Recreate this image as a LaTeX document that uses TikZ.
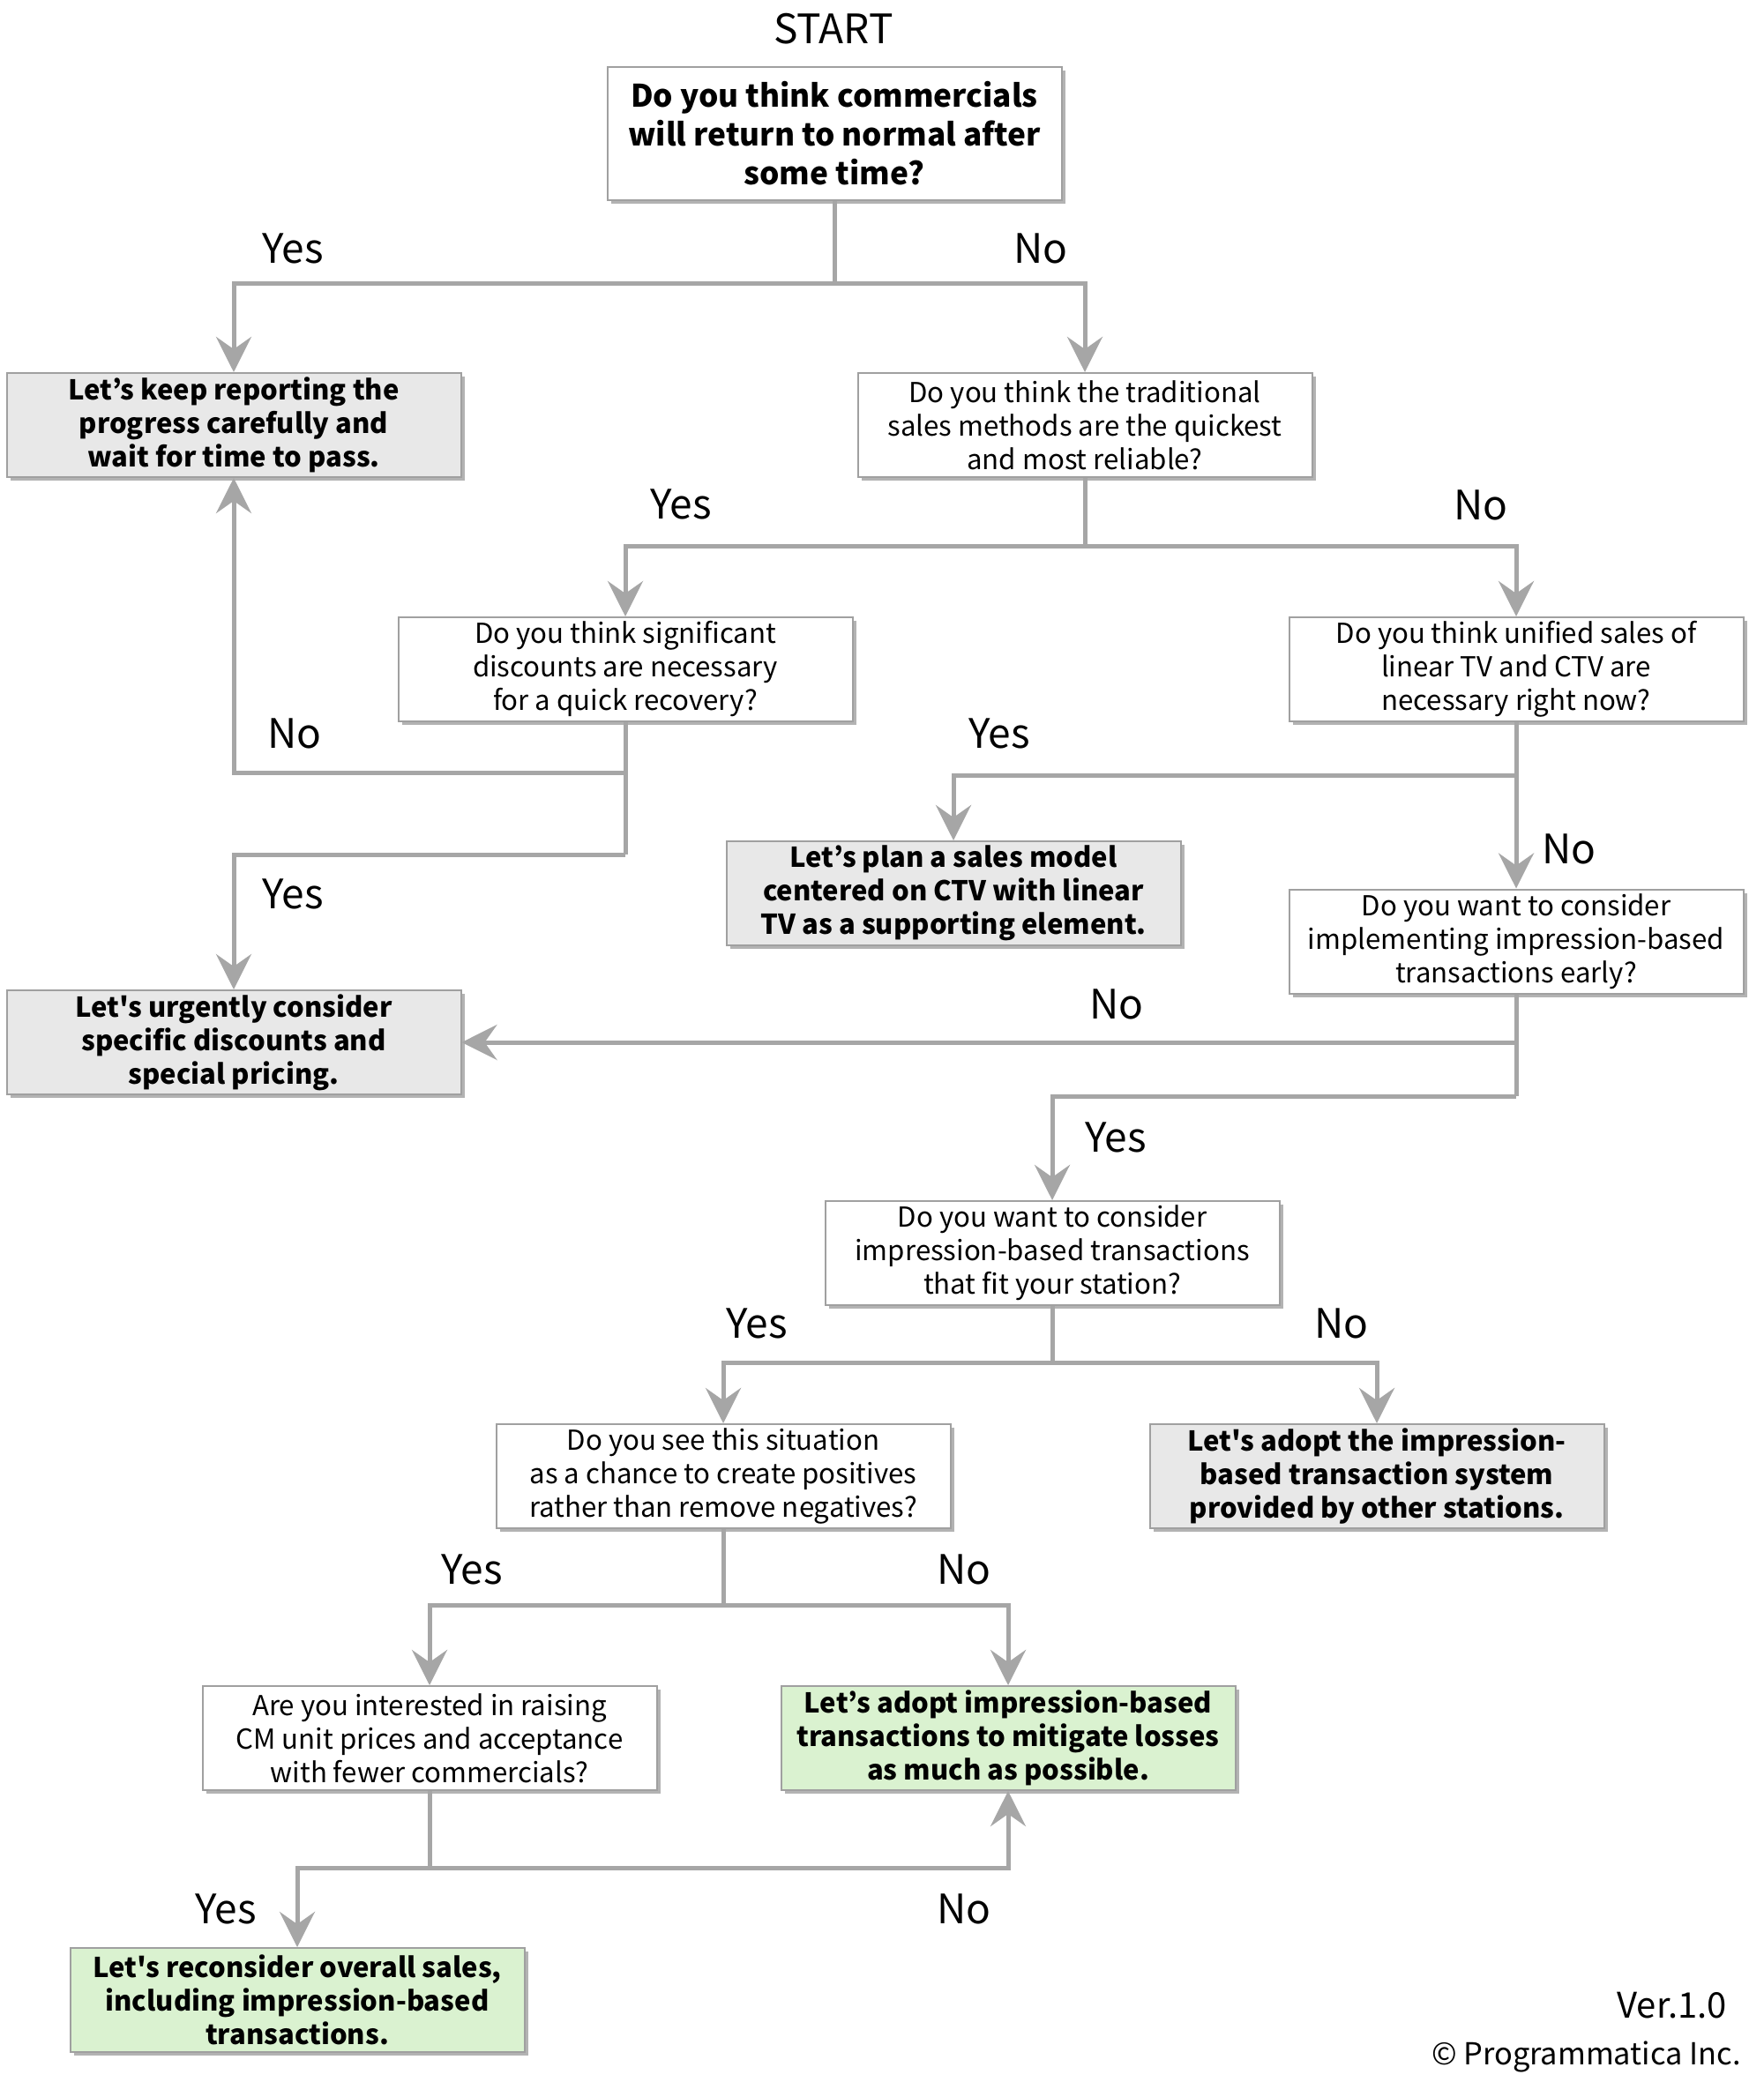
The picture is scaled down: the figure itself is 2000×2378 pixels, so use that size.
\documentclass[tikz,border=0pt]{standalone}
\usepackage{fontspec}
\setmainfont{Noto Sans CJK JP}[Ligatures=TeXOff]
\usetikzlibrary{arrows.meta,shadows}
\definecolor{lc}{HTML}{A6A6A6}
\definecolor{bc}{HTML}{A0A0A0}
\definecolor{graybox}{HTML}{E8E8E8}
\definecolor{greenbox}{HTML}{DAF2D0}
\begin{document}
\begin{tikzpicture}[x=0.5pt,y=-0.5pt,
  box/.style={draw=bc, line width=1pt, fill=white, minimum width=257.5pt, minimum height=59pt,
    align=center, inner sep=0pt, font=\fontsize{15.6}{19}\selectfont,
    drop shadow={shadow xshift=2pt, shadow yshift=-2pt, fill=black!50, opacity=0.6}},
  act/.style={box, fill=graybox, font=\bfseries\fontsize{15.5}{19}\selectfont},
  grn/.style={act, fill=greenbox},
  conn/.style={draw=lc, line width=2.5pt},
  arr/.style={conn, -{Stealth[length=20pt,width=20pt,inset=7pt]}},
  lab/.style={font=\fontsize{23}{26}\selectfont, inner sep=0pt}]
\useasboundingbox (0,0) rectangle (2000,2378);

% nodes
\node[lab] (start) at (945,33) {START};
\node[box, minimum height=75.5pt, font=\bfseries\fontsize{17.6}{22}\selectfont] (q1) at (946,151.5)
  {Do you think commercials\\will return to normal after\\some time?};
\node[act] (l1) at (265,482) {Let’s keep reporting the\\progress carefully and\\wait for time to pass.};
\node[box] (q2) at (1230,482) {Do you think the traditional\\sales methods are the quickest\\and most reliable?};
\node[box] (q3) at (709,759) {Do you think significant\\discounts are necessary\\for a quick recovery?};
\node[box] (q4) at (1719,759) {Do you think unified sales of\\linear TV and CTV are\\necessary right now?};
\node[act] (l3) at (1081,1013) {Let’s plan a sales model\\centered on CTV with linear\\TV as a supporting element.};
\node[box] (q5) at (1719,1067.5) {Do you want to consider\\implementing impression-based\\transactions early?};
\node[act] (l2) at (265,1182) {Let's urgently consider\\specific discounts and\\special pricing.};
\node[box] (q6) at (1193,1421) {Do you want to consider\\impression-based transactions\\that fit your station?};
\node[box] (q7) at (820,1674) {Do you see this situation\\as a chance to create positives\\rather than remove negatives?};
\node[act] (l4) at (1561,1674) {Let's adopt the impression-\\based transaction system\\provided by other stations.};
\node[box] (q8) at (487,1971) {Are you interested in raising\\CM unit prices and acceptance\\with fewer commercials?};
\node[grn] (g1) at (1143,1971) {Let’s adopt impression-based\\transactions to mitigate losses\\as much as possible.};
\node[grn] (g2) at (337,2268) {Let's reconsider overall sales,\\including impression-based\\transactions.};

% junctions
\coordinate (j1) at (946,321);
\coordinate (j2) at (1230,619);
\coordinate (j3a) at (709,876);
\coordinate (j3b) at (709,969);
\coordinate (j4) at (1719,879.5);
\coordinate (j5a) at (1719,1182);
\coordinate (j5b) at (1719,1243);
\coordinate (j6) at (1193,1545);
\coordinate (j7) at (820,1820);
\coordinate (j8) at (487,2118);

% connectors
\draw[conn] (q1.south) -- (j1);
\draw[arr] (j1) -| (l1.north);
\draw[arr] (j1) -| (q2.north);

\draw[conn] (q2.south) -- (j2);
\draw[arr] (j2) -| (q3.north);
\draw[arr] (j2) -| (q4.north);

\draw[conn] (q3.south) -- (j3b);
\draw[arr] (j3a) -| (l1.south);
\draw[arr] (j3b) -| (l2.north);

\draw[arr] (q4.south) -- (q5.north);
\draw[arr] (j4) -| (l3.north);

\draw[conn] (q5.south) -- (j5b);
\draw[arr] (j5a) -- (l2.east);
\draw[arr] (j5b) -| (q6.north);

\draw[conn] (q6.south) -- (j6);
\draw[arr] (j6) -| (q7.north);
\draw[arr] (j6) -| (l4.north);

\draw[conn] (q7.south) -- (j7);
\draw[arr] (j7) -| (q8.north);
\draw[arr] (j7) -| (g1.north);

\draw[conn] (q8.south) -- (j8);
\draw[arr] (j8) -| (g2.north);
\draw[arr] (j8) -| (g1.south);

% labels
\node[lab] (y1) at (332,282) {Yes};
\node[lab] (n1) at (1180,282) {No};
\node[lab] (y2) at (772,572) {Yes};
\node[lab] (n2) at (1679,573) {No};
\node[lab] (n3) at (334,832) {No};
\node[lab] (y3) at (332,1014) {Yes};
\node[lab] (y4) at (1133,832) {Yes};
\node[lab] (n4) at (1779,963) {No};
\node[lab] (n5) at (1266,1139) {No};
\node[lab] (y5) at (1265,1290) {Yes};
\node[lab] (y6) at (858,1501) {Yes};
\node[lab] (n6) at (1521,1501) {No};
\node[lab] (y7) at (535,1780) {Yes};
\node[lab] (n7) at (1093,1780) {No};
\node[lab] (y8) at (256,2165) {Yes};
\node[lab] (n8) at (1093,2165) {No};

\node[font=\fontsize{20}{24}\selectfont, anchor=east, inner sep=0pt] (ver) at (1958,2274) {Ver.1.0};
\node[font=\fontsize{17.2}{20}\selectfont, anchor=east, inner sep=0pt] (copy) at (1974,2332) {© Programmatica Inc.};
\end{tikzpicture}
\end{document}
